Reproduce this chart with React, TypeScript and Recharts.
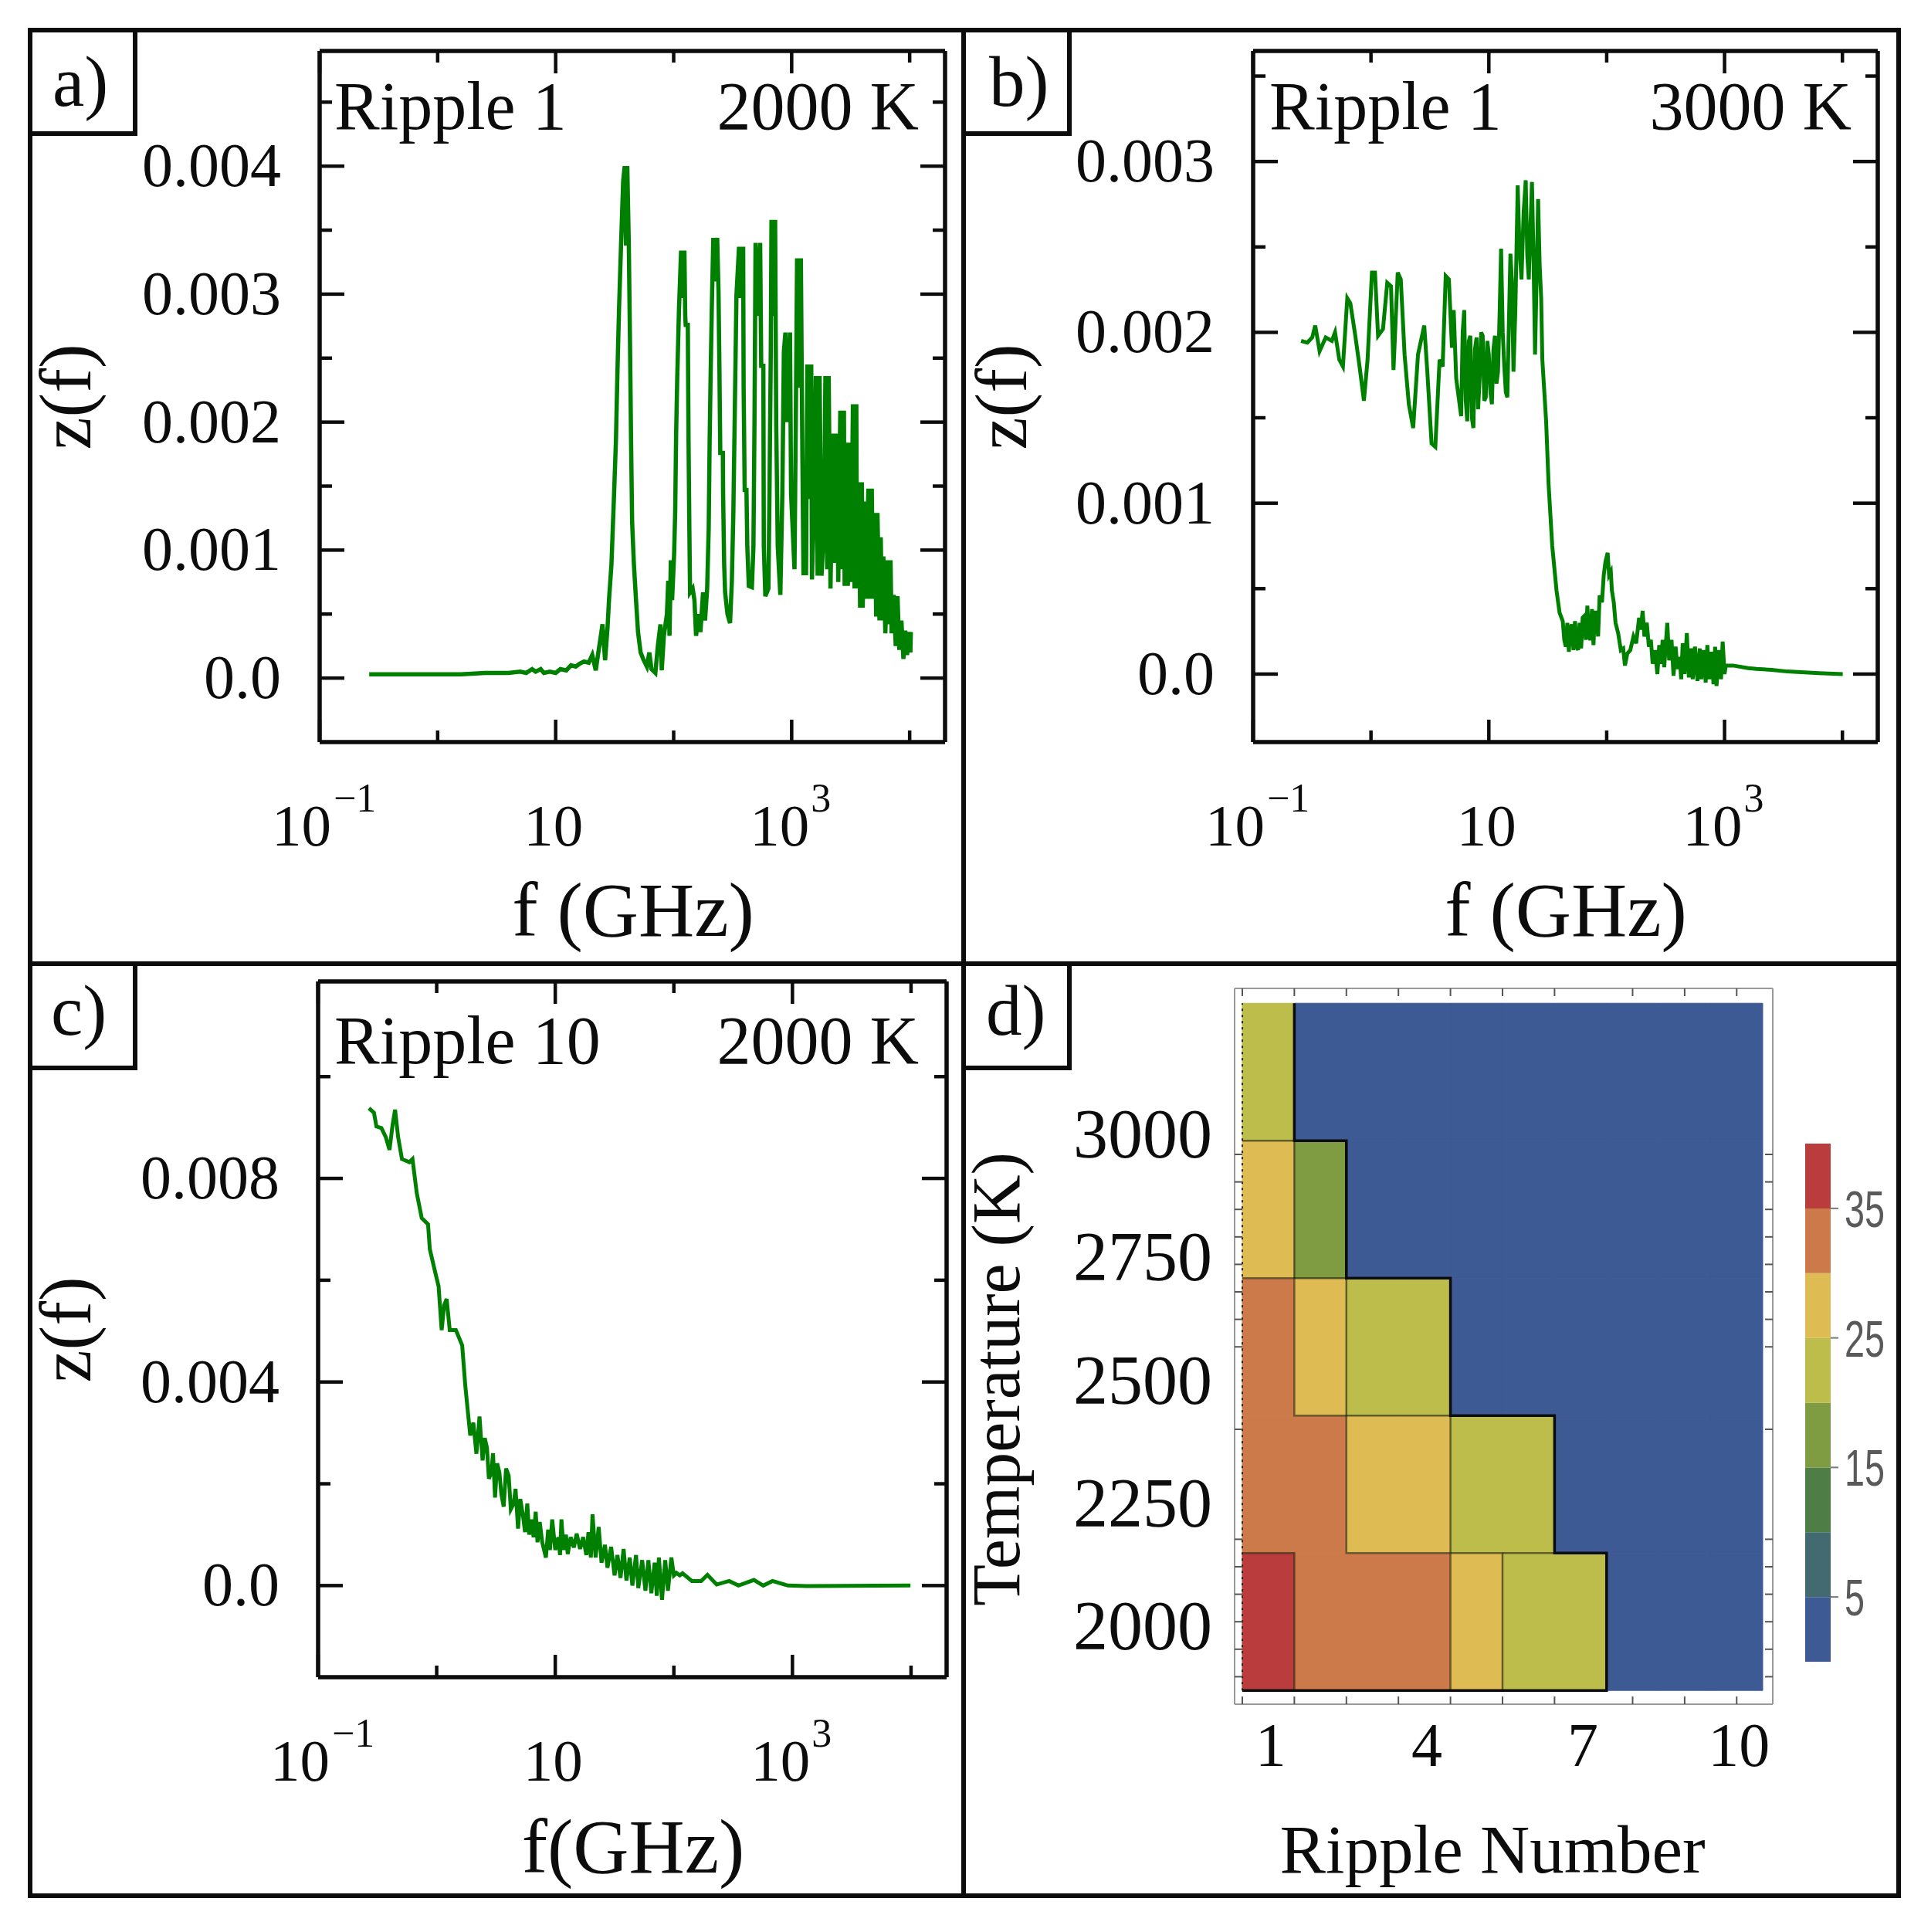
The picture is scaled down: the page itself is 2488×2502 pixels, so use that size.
import React from 'react';
import { LineChart, Line, XAxis, YAxis, ComposedChart, ReferenceArea, BarChart, Bar } from 'recharts';

// panel a) ripple 1, 2000 K
const lgFreqA = [
  -0.58, -0.4, -0.2, 0, 0.2, 0.4, 0.5, 0.6, 0.7, 0.75, 0.8, 0.83, 0.873, 0.9, 0.95, 1.0, 1.04, 1.09, 1.13, 1.17, 1.2, 1.24, 1.28, 1.31, 1.34, 1.36, 1.375, 1.397, 1.41, 1.419, 1.44,
  1.452, 1.473, 1.495, 1.511, 1.524, 1.537, 1.554, 1.572, 1.585, 1.596, 1.607, 1.62, 1.631, 1.639, 1.648, 1.663, 1.681, 1.698, 1.72, 1.746, 1.773, 1.794, 1.812, 1.845, 1.866, 1.888, 1.899, 1.917, 1.943, 1.954, 1.965, 1.976, 1.987, 2.004,
  2.013, 2.021, 2.03, 2.045, 2.063, 2.076, 2.091, 2.098, 2.102, 2.12, 2.126, 2.133, 2.139, 2.161, 2.176, 2.19, 2.209, 2.227, 2.249, 2.266, 2.284, 2.297, 2.305, 2.314, 2.323, 2.336, 2.349, 2.369, 2.38, 2.388, 2.395, 2.417, 2.419, 2.428, 2.436, 2.456, 2.478, 2.493,
  2.506, 2.519, 2.532, 2.554, 2.567, 2.589, 2.593, 2.602, 2.617, 2.624, 2.637, 2.663, 2.676, 2.685, 2.694, 2.711, 2.733, 2.742, 2.76, 2.764, 2.777, 2.803, 2.812, 2.823, 2.829, 2.847, 2.86, 2.869, 2.882, 2.904, 2.921, 2.934, 2.947, 2.963, 2.986, 2.995, 3.024, 3.035, 3.046, 3.063, 3.078, 3.091, 3.1, 3.122,
  3.133, 3.144, 3.166, 3.172, 3.187, 3.205, 3.22, 3.237, 3.253, 3.275, 3.286, 3.301, 3.314, 3.329, 3.351, 3.366, 3.384, 3.395, 3.412, 3.421, 3.443, 3.449, 3.463, 3.476, 3.493, 3.504, 3.519, 3.533, 3.548, 3.554, 3.569, 3.58, 3.595, 3.602, 3.62, 3.629, 3.65, 3.663, 3.679, 3.69, 3.705, 3.716, 3.727, 3.744, 3.755, 3.766, 3.777, 3.794, 3.81, 3.825, 3.838, 3.847, 3.865, 3.882, 3.897, 3.912, 3.93, 3.947, 3.963, 3.978, 3.995, 4.006, 4.01,
];
const zA = [
  0.00003, 0.00003, 0.00003, 0.00003, 0.00003, 0.00004, 0.00004, 0.00004, 0.00005, 0.00004, 0.00007, 0.00005, 0.00007, 0.00004, 0.00005, 0.00004, 0.00007, 0.00006, 0.0001, 0.00009, 0.00011, 0.00013, 0.00012, 0.00018, 0.00006, 0.00019, 0.00028, 0.00042, 0.00025, 0.00014, 0.0004,
  0.00061, 0.00089, 0.00144, 0.00186, 0.00241, 0.00288, 0.00338, 0.00388, 0.004, 0.00338, 0.004, 0.00338, 0.00255, 0.00186, 0.00122, 0.00089, 0.00061, 0.00036, 0.0002, 0.00014, 0.00009, 0.0002, 0.00007, 0.00004, 0.00025, 0.00042, 0.00006, 0.00033, 0.0005, 0.00076, 0.00033, 0.00092, 0.00061, 0.00097,
  0.0013, 0.00191, 0.00233, 0.00288, 0.00334, 0.00297, 0.00334, 0.00283, 0.00276, 0.00276, 0.00186, 0.00117, 0.00067, 0.0007, 0.00061, 0.00033, 0.0005, 0.00036, 0.00067, 0.00045, 0.0007, 0.00117, 0.00186, 0.00241, 0.00288, 0.00344, 0.0031, 0.00344, 0.00302, 0.00241, 0.00176, 0.00176, 0.00144, 0.00089, 0.00067, 0.0005, 0.00043, 0.00075,
  0.0013, 0.00214, 0.00299, 0.00337, 0.00297, 0.00337, 0.00227, 0.00147, 0.00147, 0.00103, 0.00072, 0.00071, 0.00103, 0.002, 0.0034, 0.00283, 0.0034, 0.00244, 0.00244, 0.00103, 0.00064, 0.0007, 0.00144, 0.00255, 0.00358, 0.00283, 0.00358, 0.002, 0.00103, 0.00065, 0.00144, 0.00255, 0.0027, 0.002, 0.0027, 0.00144, 0.00085, 0.002, 0.00328, 0.00227, 0.00328, 0.00172, 0.00082, 0.00082,
  0.00245, 0.0014, 0.00245, 0.00077, 0.0013, 0.00236, 0.0008, 0.00236, 0.0008, 0.0012, 0.00236, 0.00085, 0.00236, 0.0007, 0.00191, 0.0009, 0.00191, 0.00075, 0.00209, 0.00085, 0.00209, 0.00072, 0.00184, 0.00072, 0.00184, 0.00075, 0.00214, 0.0007, 0.00214, 0.0007, 0.00153, 0.00055, 0.00153, 0.00055, 0.00138, 0.00062, 0.00148, 0.00062, 0.00148, 0.00062, 0.00129, 0.00048, 0.00129, 0.00045, 0.0011, 0.00045, 0.00095, 0.00035, 0.00092, 0.00042, 0.00092, 0.00035, 0.00065, 0.00025, 0.00064, 0.00022, 0.00045, 0.00015, 0.00037, 0.00018, 0.00036, 0.0002, 0.00036,
];

// panel b) ripple 1, 3000 K
const lgFreqB = [
  -0.593, -0.54, -0.499, -0.473, -0.436, -0.384, -0.332, -0.305, -0.269, -0.238, -0.201, -0.175, -0.133, -0.097, -0.06, -0.029, 0.008, 0.034, 0.06, 0.102, 0.138, 0.17, 0.191, 0.227, 0.253, 0.285, 0.321, 0.358, 0.399, 0.452, 0.478, 0.514, 0.546, 0.582, 0.608, 0.634, 0.661, 0.687, 0.702, 0.723,
  0.765, 0.778, 0.791, 0.804, 0.817, 0.83, 0.843, 0.856, 0.869, 0.882, 0.896, 0.909, 0.922, 0.935, 0.948, 0.961, 0.974, 0.987, 1.0, 1.013, 1.026, 1.039, 1.052, 1.065, 1.078, 1.091, 1.104, 1.118, 1.131, 1.144, 1.157, 1.17, 1.183, 1.196, 1.209, 1.225, 1.245, 1.26, 1.277, 1.295, 1.313, 1.326, 1.339, 1.352, 1.366, 1.38, 1.392, 1.405, 1.418, 1.431, 1.444, 1.454, 1.486, 1.507, 1.538, 1.574,
  1.6, 1.627, 1.64, 1.653, 1.666, 1.679, 1.692, 1.705, 1.718, 1.731, 1.744, 1.757, 1.77, 1.783, 1.796, 1.81, 1.823, 1.836, 1.849, 1.862, 1.875, 1.888, 1.9, 1.914, 1.927, 1.94, 1.96, 1.975, 1.99, 2.008, 2.02, 2.035, 2.044, 2.06, 2.075, 2.097, 2.12, 2.14, 2.155, 2.175, 2.2, 2.227, 2.25, 2.275, 2.29, 2.305, 2.32, 2.34, 2.358, 2.375, 2.39, 2.41, 2.43, 2.446, 2.46, 2.475, 2.488, 2.514, 2.53, 2.55, 2.567, 2.585, 2.6, 2.619, 2.632, 2.645, 2.66, 2.68, 2.697, 2.715, 2.73, 2.749, 2.77, 2.79, 2.802, 2.82, 2.84, 2.854, 2.87, 2.89, 2.906, 2.92, 2.932, 2.95, 2.97, 2.984, 3.0, 3.01, 3.073, 3.2, 3.272, 3.4, 3.533, 3.8, 4.003,
];
const zB = [
  0.00195, 0.00194, 0.00197, 0.00204, 0.00189, 0.00197, 0.00195, 0.002, 0.00184, 0.0018, 0.0022, 0.00217, 0.00198, 0.0018, 0.0016, 0.00184, 0.00235, 0.00235, 0.00198, 0.00202, 0.00229, 0.00227, 0.00178, 0.00235, 0.00231, 0.00187, 0.00158, 0.00144, 0.00187, 0.00204, 0.00177, 0.00135, 0.00133, 0.00184, 0.0018, 0.00233, 0.00231, 0.00191, 0.00213, 0.00173,
  0.00151, 0.002, 0.00213, 0.0016, 0.00148, 0.00195, 0.00198, 0.0015, 0.00144, 0.0019, 0.00197, 0.00155, 0.00173, 0.002, 0.00198, 0.0016, 0.00162, 0.00195, 0.00187, 0.00165, 0.00158, 0.0019, 0.00198, 0.0017, 0.00177, 0.0021, 0.00249, 0.002, 0.0018, 0.00165, 0.00162, 0.00205, 0.00246, 0.0023, 0.00177, 0.00213, 0.00286, 0.0025, 0.00231, 0.0027, 0.00289, 0.00245, 0.00231, 0.0026, 0.00288, 0.0024, 0.00187, 0.0023, 0.00278, 0.0024, 0.0022, 0.00184, 0.00148, 0.00111, 0.00075, 0.00049,
  0.00036, 0.00031, 0.0002, 0.00016, 0.0003, 0.00013, 0.00027, 0.00029, 0.00014, 0.00031, 0.00017, 0.00014, 0.0003, 0.00015, 0.00033, 0.00034, 0.0002, 0.0004, 0.00022, 0.0002, 0.00038, 0.00017, 0.00036, 0.00036, 0.00022, 0.00046, 0.00042, 0.00058, 0.00066, 0.00071, 0.00058, 0.0006, 0.00049, 0.00042, 0.0003, 0.00024, 0.00014, 0.00015, 0.00005, 0.00012, 0.00014, 0.00022, 0.00018, 0.00033, 0.00026, 0.00037, 0.00022, 0.0003, 0.00016, 0.0002, 0.00006, 0.00014, 0, 0.00017, 0.00006, 0.0002, 0.00004, 0.0003, 0.00008, 0.0002, -0.00001, 0.00016, 0.00003, 0.0001, -0.00003, 0.00018, 0, 0.00024, -0.00002, 0.00015, -0.00003, 0.00016, -0.00004, 0.00015, -0.00003, 0.00014, -0.00005, 0.00017, -0.00003, 0.00013, -0.00006, 0.00016, -0.00007, 0.00014, -0.00003, 0.00019, 0, 0.00005, 0.00005, 0.000035, 0.00003, 0.000025, 0.000015, 0.000005, 0,
];

// panel c) ripple 10, 2000 K
const lgFreqC = [
  -0.571, -0.529, -0.508, -0.466, -0.429, -0.398, -0.372, -0.351, -0.325, -0.293, -0.23, -0.204, -0.168, -0.126, -0.073, -0.058, -0.021, 0.016, 0.042, 0.063, 0.084, 0.11, 0.162, 0.215, 0.241, 0.267, 0.283, 0.309, 0.335, 0.361,
  0.387, 0.405, 0.424, 0.44, 0.461, 0.475, 0.492, 0.51, 0.529, 0.545, 0.565, 0.585, 0.607, 0.625, 0.649, 0.665, 0.686, 0.705, 0.728, 0.745, 0.764, 0.78, 0.8, 0.817, 0.835, 0.85, 0.869, 0.89, 0.921, 0.94, 0.955, 0.974, 1.0, 1.026, 1.04, 1.052, 1.07, 1.09, 1.105, 1.13, 1.157, 1.18, 1.209, 1.235, 1.262, 1.28, 1.3, 1.314, 1.34, 1.366, 1.39, 1.419, 1.44, 1.471, 1.5, 1.524, 1.55, 1.576, 1.6, 1.628, 1.65, 1.681, 1.7, 1.733, 1.76, 1.785, 1.81, 1.838, 1.856, 1.874, 1.9, 1.927, 1.95, 1.979, 2.0,
  2.021, 2.05, 2.073, 2.152, 2.23, 2.283, 2.361, 2.466, 2.545, 2.675, 2.754, 2.832, 2.963, 3.12, 3.995,
];
const zC = [
  0.00938, 0.00929, 0.00902, 0.00899, 0.00881, 0.00856, 0.00905, 0.00935, 0.00881, 0.00838, 0.00832, 0.00838, 0.00771, 0.00722, 0.0071, 0.00661, 0.00624, 0.00588, 0.00502, 0.00551, 0.00563, 0.00502, 0.00502, 0.00472, 0.00393, 0.00332, 0.00295, 0.0032, 0.00259, 0.00332,
  0.00246, 0.0029, 0.00271, 0.0021, 0.00222, 0.0026, 0.00173, 0.0024, 0.00222, 0.0018, 0.00155, 0.0023, 0.00216, 0.0015, 0.00161, 0.0019, 0.00112, 0.0017, 0.00137, 0.00105, 0.00161, 0.001, 0.0013, 0.00095, 0.00145, 0.00085, 0.00125, 0.00085, 0.00055, 0.0011, 0.0007, 0.0013, 0.0007, 0.00095, 0.0006, 0.0013, 0.0007, 0.001, 0.00062, 0.00095, 0.00075, 0.00102, 0.00072, 0.00095, 0.0006, 0.00105, 0.00055, 0.0014, 0.00055, 0.00115, 0.00045, 0.0008, 0.00035, 0.00076, 0.0002, 0.0006, 0.00015, 0.00072, 0.0001, 0.00055, 0, 0.0006, -0.00005, 0.0005, -0.0001, 0.0005, -0.00015, 0.00045, -0.0002, 0.00055, -0.00028, 0.0005, -0.0001, 0.00055, 0.0002,
  0.00025, 0.0002, 0.00024, 0.00009, 0.00009, 0.00021, 0.00002, 0.00009, 0, 0.00011, 0, 0.00009, 0, -0.00001, 0,
];

const decadeTicks = [0.1, 1, 10, 100, 1000, 10000];
const majorDecades = [0.1, 10, 1000];
const zTicksA = [0, 0.0005, 0.001, 0.0015, 0.002, 0.0025, 0.003, 0.0035, 0.004, 0.0045];
const zMajorA = [0, 0.001, 0.002, 0.003, 0.004];
const zTicksB = [0, 0.0005, 0.001, 0.0015, 0.002, 0.0025, 0.003, 0.0035];
const zMajorB = [0, 0.001, 0.002, 0.003];
const zTicksC = [0, 0.002, 0.004, 0.006, 0.008, 0.01];
const zMajorC = [0, 0.004, 0.008];

// panel d) heat map, rows from the bottom up
const rippleNumbers = [1, 2, 3, 4, 5, 6, 7, 8, 9, 10];
const temperatures = [2000, 2250, 2500, 2750, 3000];
const row2000 = [37, 32, 32, 32, 27, 22, 22, 2, 2, 2];
const row2250 = [32, 32, 27, 27, 22, 22, 2, 2, 2, 2];
const row2500 = [32, 27, 22, 22, 2, 2, 2, 2, 2, 2];
const row2750 = [27, 17, 2, 2, 2, 2, 2, 2, 2, 2];
const row3000 = [22, 2, 2, 2, 2, 2, 2, 2, 2, 2];
const gridRows = [row2000, row2250, row2500, row2750, row3000];
const bandSteps = [5, 5, 5, 5, 5, 5, 5, 5];
const bandColors = ['#3d5a94', '#426a70', '#4e7d46', '#7f9c42', '#bdbd4b', '#dfbb54', '#cc7a4a', '#ba3c3d'];
const barTicks = [5, 15, 25, 35];
const rippleLabelTicks = [1, 4, 7, 10];
const rippleMarks = [0.5, 1.5, 2.5, 3.5, 4.5, 5.5, 6.5, 8, 9, 10];
const tempMarks = [1900, 1950, 2000, 2050, 2100, 2150, 2350, 2500, 2550, 2600, 2650, 2700, 2750, 2800, 2850];
const tempLabelTicks = [2000, 2250, 2500, 2750, 3000];

// contour lines between the colour levels, as [ripple edge, temperature edge]
const blueEdge = [[1.5, 3125], [1.5, 2875], [2.5, 2875], [2.5, 2625], [4.5, 2625], [4.5, 2375], [6.5, 2375], [6.5, 2125], [7.5, 2125], [7.5, 1875], [0.5, 1875]];
const thinEdges = [
  [[0.5, 2875], [1.5, 2875], [1.5, 2625]],
  [[0.5, 2625], [2.5, 2625], [2.5, 2125], [4.5, 2125]],
  [[1.5, 2625], [1.5, 2375], [4.5, 2375], [4.5, 1875]],
  [[0.5, 2125], [1.5, 2125], [1.5, 1875]],
  [[4.5, 2125], [5.5, 2125], [5.5, 1875]],
  [[5.5, 2125], [6.5, 2125]],
];
const leftEdge = [[0.5, 1875], [0.5, 3125]];

const SERIF = '"Liberation Serif", "Times New Roman", serif';
const BLACK = '#0c0c0c';
const GREEN = '#008000';

const toTable = (lg: number[], z: number[]) => lg.map((v, i) => ({ f: 10 ** v, z: z[i] }));
const toEdge = (pts: number[][]) => pts.map(([r, t]) => ({ r, t }));
const bandRow = [{ name: 'bar', ...Object.fromEntries(bandSteps.map((s, i) => ['b' + i, s])) }];

const FreqTick = ({ x, y, payload, side }: any) => {
  const v = payload.value;
  const len = majorDecades.includes(v) ? 29 : 15;
  const dir = side === 'top' ? 1 : -1;
  return (
    <g>
      <line x1={x} x2={x} y1={y} y2={y + dir * len} stroke={BLACK} strokeWidth={4.5} />
      {side === 'bottom' && v === 0.1 && (
        <text x={x - 62} y={y + 134} fontFamily={SERIF} fontSize={77} fill={BLACK}>10<tspan fontSize={52} dy={-44} dx={3}>−1</tspan></text>
      )}
      {side === 'bottom' && v === 10 && (
        <text x={x - 3} y={y + 134} fontFamily={SERIF} fontSize={77} fill={BLACK} textAnchor="middle">10</text>
      )}
      {side === 'bottom' && v === 1000 && (
        <text x={x - 54} y={y + 134} fontFamily={SERIF} fontSize={77} fill={BLACK}>10<tspan fontSize={52} dy={-44} dx={2}>3</tspan></text>
      )}
    </g>
  );
};

const ZTick = ({ x, y, payload, side, major }: any) => {
  const v = payload.value;
  const isMajor = major.includes(v);
  const len = isMajor ? 32 : 16;
  const dir = side === 'left' ? 1 : -1;
  return (
    <g>
      <line x1={x} x2={x + dir * len} y1={y} y2={y} stroke={BLACK} strokeWidth={4.5} />
      {side === 'left' && isMajor && (
        <text x={x - 50} y={y + 26} fontFamily={SERIF} fontSize={80} fill={BLACK} textAnchor="end">{v === 0 ? '0.0' : v.toFixed(3)}</text>
      )}
    </g>
  );
};

const SpectrumPanel = ({ box, frame, data, zDomain, zTicks, zMajor, lineWidth }: any) => {
  const axisLine = { stroke: BLACK, strokeWidth: 5.5 };
  const xDomain = [0.1, 19950];
  return (
    <div style={{ position: 'absolute', left: box.l, top: box.t }}>
      <LineChart
        width={box.r - box.l}
        height={box.b - box.t}
        data={data}
        margin={{ left: frame.l - box.l - 1, right: box.r - frame.r - 1, top: frame.t - box.t - 1, bottom: box.b - frame.b - 1 }}
      >
        <XAxis dataKey="f" type="number" scale="log" domain={xDomain} ticks={decadeTicks} interval={0} height={1} tickSize={0} tickMargin={0} axisLine={axisLine} tickLine={false} allowDataOverflow tick={(p: any) => <FreqTick {...p} side="bottom" />} />
        <XAxis xAxisId="top" orientation="top" dataKey="f" type="number" scale="log" domain={xDomain} ticks={decadeTicks} interval={0} height={1} tickSize={0} tickMargin={0} axisLine={axisLine} tickLine={false} allowDataOverflow tick={(p: any) => <FreqTick {...p} side="top" />} />
        <YAxis type="number" domain={zDomain} ticks={zTicks} interval={0} width={1} tickSize={0} tickMargin={0} axisLine={axisLine} tickLine={false} allowDataOverflow tick={(p: any) => <ZTick {...p} side="left" major={zMajor} />} />
        <YAxis yAxisId="right" orientation="right" type="number" domain={zDomain} ticks={zTicks} interval={0} width={1} tickSize={0} tickMargin={0} axisLine={axisLine} tickLine={false} allowDataOverflow tick={(p: any) => <ZTick {...p} side="right" major={zMajor} />} />
        <Line dataKey="z" type="linear" stroke={GREEN} strokeWidth={lineWidth} dot={false} isAnimationActive={false} strokeLinejoin="miter" />
      </LineChart>
    </div>
  );
};

const RippleTick = ({ x, y, payload, side }: any) => {
  const v = payload.value;
  const dir = side === 'top' ? 1 : -1;
  return (
    <g>
      {rippleMarks.includes(v) && <line x1={x} x2={x} y1={y} y2={y + dir * 10} stroke="#555" strokeWidth={2} />}
      {side === 'bottom' && rippleLabelTicks.includes(v) && (
        <text x={x + 3} y={y + 80} fontFamily={SERIF} fontSize={80} fill={BLACK} textAnchor="middle">{v}</text>
      )}
    </g>
  );
};

const TempTick = ({ x, y, side }: any) => {
  const dir = side === 'left' ? 1 : -1;
  return <line x1={x} x2={x + dir * 10} y1={y} y2={y} stroke="#555" strokeWidth={2} />;
};

const TempLabelTick = ({ x, y, payload }: any) => (
  <text x={x - 28} y={y + 26} fontFamily={SERIF} fontSize={90} fill={BLACK} textAnchor="end">{payload.value}</text>
);

const HeatPanel = () => {
  const box = { l: 1252, t: 1252, r: 2320, b: 2400 };
  const frame = { l: 1599, t: 1280, r: 2296, b: 2207 };
  const xDomain = [0.352, 10.693];
  const yDomain = [1850, 3152];
  const line = { stroke: '#999', strokeWidth: 2 };
  const allMarks = [...rippleMarks, ...rippleLabelTicks].filter((v, i, a) => a.indexOf(v) === i).sort((a, b) => a - b);
  return (
    <div style={{ position: 'absolute', left: box.l, top: box.t }}>
      <ComposedChart width={box.r - box.l} height={box.b - box.t} margin={{ left: frame.l - box.l - 2, right: box.r - frame.r - 1, top: frame.t - box.t - 1, bottom: box.b - frame.b - 1 }}>
        <XAxis dataKey="r" type="number" domain={xDomain} ticks={allMarks} interval={0} height={1} tickSize={0} tickMargin={0} axisLine={line} tickLine={false} allowDataOverflow tick={(p: any) => <RippleTick {...p} side="bottom" />} />
        <XAxis xAxisId="top" orientation="top" dataKey="r" type="number" domain={xDomain} ticks={rippleMarks} interval={0} height={1} tickSize={0} tickMargin={0} axisLine={line} tickLine={false} allowDataOverflow tick={(p: any) => <RippleTick {...p} side="top" />} />
        <YAxis yAxisId="temp" type="number" domain={yDomain} ticks={tempMarks} interval={0} width={1} tickSize={0} tickMargin={0} axisLine={line} tickLine={false} allowDataOverflow tick={(p: any) => <TempTick {...p} side="left" />} />
        <YAxis yAxisId="tempRight" orientation="right" type="number" domain={yDomain} ticks={tempMarks} interval={0} width={1} tickSize={0} tickMargin={0} axisLine={line} tickLine={false} allowDataOverflow tick={(p: any) => <TempTick {...p} side="right" />} />
        {/* the printed labels do not sit on the tick marks, they get their own axis */}
        <YAxis yAxisId="tempLabels" type="number" domain={[1848, 3303]} ticks={tempLabelTicks} interval={0} width={1} tickSize={0} tickMargin={0} axisLine={false} tickLine={false} allowDataOverflow tick={(p: any) => <TempLabelTick {...p} />} />
        {gridRows.map((row, ri) =>
          row.map((v, ci) => {
            const c = bandColors[Math.floor(v / 5)];
            return (
              <ReferenceArea key={ri + '-' + ci} yAxisId="temp" x1={rippleNumbers[ci] - 0.5} x2={rippleNumbers[ci] + 0.5} y1={temperatures[ri] - 125} y2={temperatures[ri] + 125} fill={c} fillOpacity={1} stroke={c} strokeWidth={1} />
            );
          })
        )}
        {thinEdges.map((pts, i) => (
          <Line key={i} yAxisId="temp" data={toEdge(pts)} dataKey="t" type="linear" stroke="rgba(30,30,20,0.6)" strokeWidth={2.5} dot={false} isAnimationActive={false} />
        ))}
        <Line yAxisId="temp" data={toEdge(leftEdge)} dataKey="t" type="linear" stroke="#222" strokeWidth={2} strokeDasharray="3 5" dot={false} isAnimationActive={false} />
        <Line yAxisId="temp" data={toEdge(blueEdge)} dataKey="t" type="linear" stroke="#0c0c0c" strokeWidth={3.5} dot={false} isAnimationActive={false} />
      </ComposedChart>
    </div>
  );
};

const BarTick = ({ x, y, payload }: any) => (
  <g>
    <line x1={x} x2={x + 10} y1={y} y2={y} stroke="#777" strokeWidth={2} />
    <text x={x + 18} y={y + 24} fontFamily='"Liberation Sans", sans-serif' fontSize={66} fill="#5a5a5a" textLength={String(payload.value).length * 26} lengthAdjust="spacingAndGlyphs">{payload.value}</text>
  </g>
);

const ColorBar = () => (
  <div style={{ position: 'absolute', left: 2338, top: 1451 }}>
    <BarChart width={136} height={731} data={bandRow} margin={{ left: 0, right: 102, top: 30, bottom: 30 }} barCategoryGap={0}>
      <XAxis hide dataKey="name" />
      <YAxis orientation="right" type="number" domain={[0, 40]} ticks={barTicks} interval={0} width={1} tickSize={0} tickMargin={0} axisLine={false} tickLine={false} tick={(p: any) => <BarTick {...p} />} />
      {bandSteps.map((_, i) => (
        <Bar key={i} dataKey={'b' + i} stackId="bar" fill={bandColors[i]} isAnimationActive={false} />
      ))}
    </BarChart>
  </div>
);

const T = ({ x, y, size, anchor, rot, children }: any) => (
  <text x={x} y={y} fontFamily={SERIF} fontSize={size} fill={BLACK} textAnchor={anchor || 'start'} transform={rot ? `rotate(-90 ${x} ${y})` : undefined}>{children}</text>
);

const Overlay = () => (
  <svg width={2488} height={2502} style={{ position: 'absolute', left: 0, top: 0, pointerEvents: 'none' }}>
    <g fill="none" stroke={BLACK} strokeWidth={6}>
      <rect x={39} y={39} width={2420} height={2416} />
      <line x1={1248} x2={1248} y1={39} y2={2455} />
      <line x1={39} x2={2459} y1={1248} y2={1248} />
      <rect x={39} y={39} width={136} height={134} />
      <rect x={1248} y={39} width={137} height={134} />
      <rect x={39} y={1248} width={136} height={135} />
      <rect x={1248} y={1248} width={137} height={135} />
    </g>
    <T x={68} y={137} size={93}>a)</T>
    <T x={1281} y={137} size={93}>b)</T>
    <T x={66} y={1340} size={93}>c)</T>
    <T x={1277} y={1340} size={93}>d)</T>

    <T x={433} y={167} size={88}>Ripple 1</T>
    <T x={1190} y={167} size={88} anchor="end">2000 K</T>
    <T x={1644} y={167} size={88}>Ripple 1</T>
    <T x={2398} y={167} size={88} anchor="end">3000 K</T>
    <T x={433} y={1377} size={88}>Ripple 10</T>
    <T x={1190} y={1377} size={88} anchor="end">2000 K</T>

    <T x={820} y={1212} size={100} anchor="middle">f (GHz)</T>
    <T x={2028} y={1212} size={100} anchor="middle">f (GHz)</T>
    <T x={820} y={2425} size={100} anchor="middle">f(GHz)</T>
    <T x={117} y={514} size={95} anchor="middle" rot>z(f)</T>
    <T x={1329} y={514} size={95} anchor="middle" rot>z(f)</T>
    <T x={117} y={1722} size={95} anchor="middle" rot>z(f)</T>

    <T x={1320} y={1786} size={88} anchor="middle" rot>Temperature (K)</T>
    <T x={1933} y={2425} size={89} anchor="middle">Ripple Number</T>
  </svg>
);

export default function App() {
  return (
    <div style={{ position: 'absolute', left: 0, top: 0, width: 2488, height: 2502, background: '#fff' }}>
      <SpectrumPanel
        box={{ l: 42, t: 42, r: 1246, b: 1246 }}
        frame={{ l: 414, t: 66, r: 1224, b: 961 }}
        data={toTable(lgFreqA, zA)}
        zDomain={[-0.0005, 0.0049]}
        zTicks={zTicksA}
        zMajor={zMajorA}
        lineWidth={5.5}
      />
      <SpectrumPanel
        box={{ l: 1252, t: 42, r: 2456, b: 1246 }}
        frame={{ l: 1623, t: 66, r: 2432, b: 961 }}
        data={toTable(lgFreqB, zB)}
        zDomain={[-0.000398, 0.003647]}
        zTicks={zTicksB}
        zMajor={zMajorB}
        lineWidth={5}
      />
      <SpectrumPanel
        box={{ l: 42, t: 1252, r: 1246, b: 2452 }}
        frame={{ l: 412, t: 1271, r: 1226, b: 2172 }}
        data={toTable(lgFreqC, zC)}
        zDomain={[-0.0018, 0.01187]}
        zTicks={zTicksC}
        zMajor={zMajorC}
        lineWidth={5}
      />
      <HeatPanel />
      <ColorBar />
      <Overlay />
    </div>
  );
}
